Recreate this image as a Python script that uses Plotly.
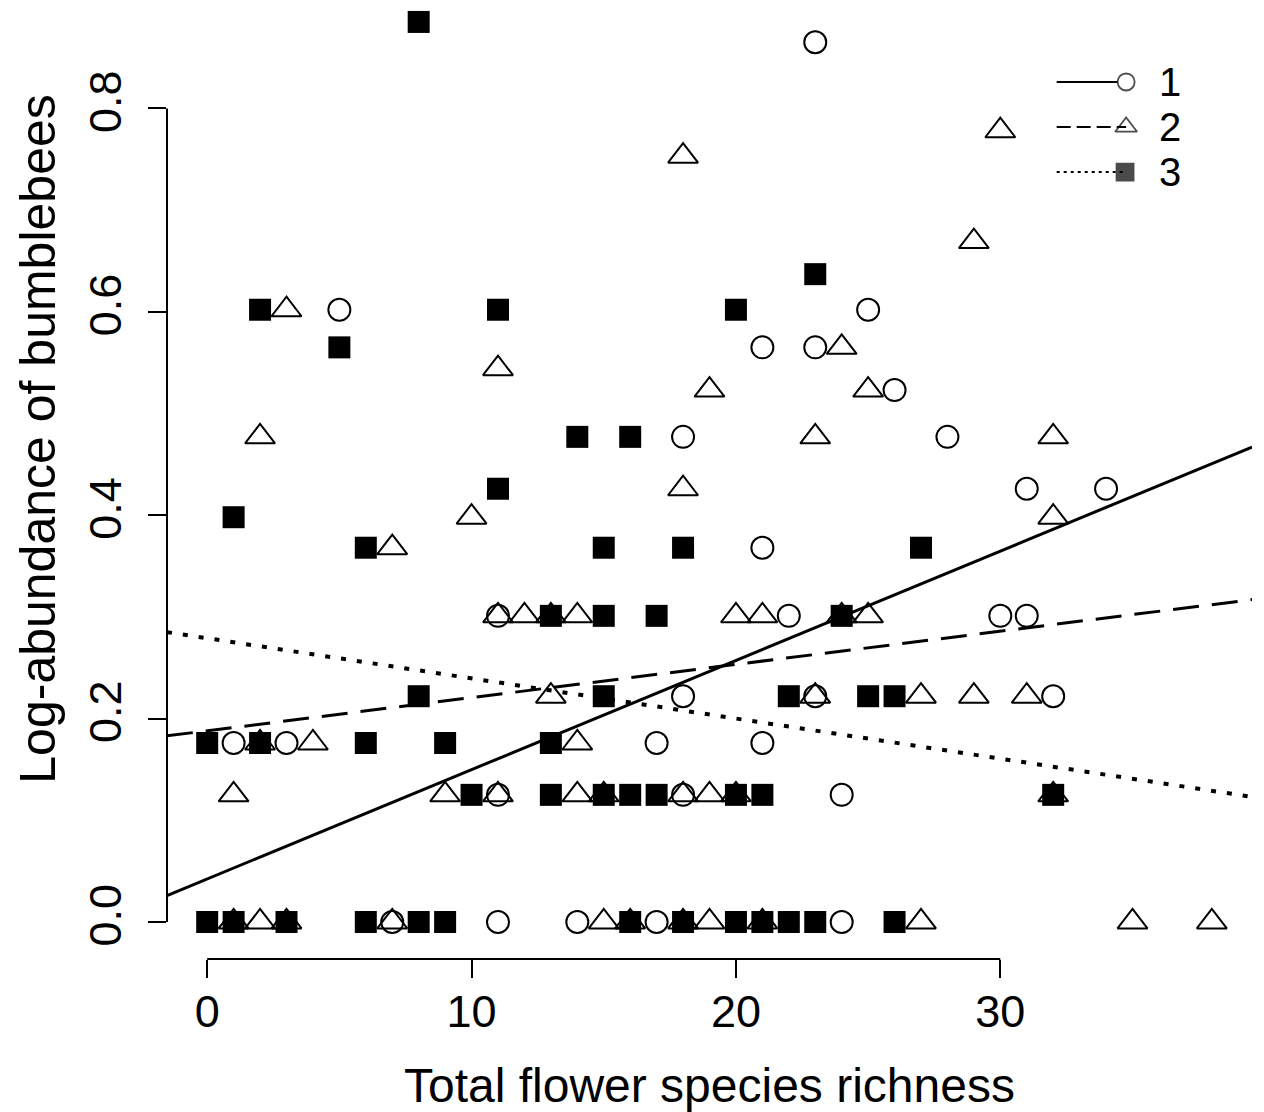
import plotly.graph_objects as go

# flower species richness (x) and log-abundance of bumblebees (y), per group
g1_x = [7, 11, 14, 17, 24,
        11, 18, 24,
        1, 3, 17, 21,
        18, 23, 32,
        11, 22, 30, 31,
        21, 31, 34, 18, 28, 26, 21, 23, 5, 25, 23]
g1_y = [0.0, 0.0, 0.0, 0.0, 0.0,
        0.125, 0.125, 0.125,
        0.176, 0.176, 0.176, 0.176,
        0.222, 0.222, 0.222,
        0.301, 0.301, 0.301, 0.301,
        0.368, 0.426, 0.426, 0.477, 0.477, 0.523, 0.565, 0.565, 0.602, 0.602, 0.865]

g2_x = [1, 2, 3, 7, 15, 16, 18, 19, 21, 27, 35, 38,
        1, 9, 11, 14, 15, 18, 19, 20, 32,
        2, 4, 14,
        13, 23, 27, 29, 31,
        11, 12, 13, 14, 20, 21, 24, 25,
        7, 10, 32, 18, 2, 23, 32, 19, 25, 11, 24, 3, 29, 18, 30]
g2_y = [0.0] * 12 + [0.125] * 9 + [0.176] * 3 + [0.222] * 5 + [0.301] * 8 + \
       [0.368, 0.398, 0.398, 0.426, 0.477, 0.477, 0.477, 0.523, 0.523, 0.544,
        0.565, 0.602, 0.669, 0.753, 0.778]

g3_x = [0, 1, 3, 6, 8, 9, 16, 18, 20, 21, 22, 23, 26,
        10, 13, 15, 16, 17, 20, 21, 32,
        0, 2, 6, 9, 13,
        8, 15, 22, 25, 26,
        13, 15, 17, 24,
        6, 15, 18, 27,
        1, 11, 14, 16, 5, 2, 11, 20, 23, 8]
g3_y = [0.0] * 13 + [0.125] * 8 + [0.176] * 5 + [0.222] * 5 + [0.301] * 4 + \
       [0.368] * 4 + [0.398, 0.426, 0.477, 0.477, 0.565, 0.602, 0.602, 0.602, 0.637, 0.885]

# fitted lines, values at the left and right edges of the plot
fit_x = [-1.52, 39.52]
fit1_y = [0.026, 0.467]
fit2_y = [0.183, 0.317]
fit3_y = [0.285, 0.123]

x_ticks = [0, 10, 20, 30]
y_ticks = [0.0, 0.2, 0.4, 0.6, 0.8]
y_tick_text = ["0.0", "0.2", "0.4", "0.6", "0.8"]
group_names = ["1", "2", "3"]

FONT = "Liberation Sans, Arial, sans-serif"

fig = go.Figure()

fig.add_trace(go.Scatter(x=fit_x, y=fit1_y, mode="lines",
                         line=dict(color="black", width=3)))
fig.add_trace(go.Scatter(x=fit_x, y=fit2_y, mode="lines",
                         line=dict(color="black", width=3, dash="26px,13px")))
fig.add_trace(go.Scatter(x=fit_x, y=fit3_y, mode="lines",
                         line=dict(color="black", width=4, dash="5px,11px")))

fig.add_trace(go.Scatter(x=g1_x, y=g1_y, mode="markers", cliponaxis=False,
                         marker=dict(symbol="circle-open", size=22, color="black",
                                     line=dict(width=2))))
fig.add_trace(go.Scatter(x=g2_x, y=g2_y, mode="markers", cliponaxis=False,
                         marker=dict(symbol="triangle-up-open", size=26, color="black",
                                     line=dict(width=2))))
fig.add_trace(go.Scatter(x=g3_x, y=g3_y, mode="markers", cliponaxis=False,
                         marker=dict(symbol="square", size=22, color="black",
                                     line=dict(width=0))))

# legend drawn on an overlay axis in plot fractions
leg_y = [0.9222, 0.8749, 0.8275]
fig.add_trace(go.Scatter(x=[0.820, 0.876], y=[leg_y[0]] * 2, mode="lines",
                         xaxis="x2", yaxis="y2", line=dict(color="black", width=2)))
fig.add_trace(go.Scatter(x=[0.820, 0.884], y=[leg_y[1]] * 2, mode="lines",
                         xaxis="x2", yaxis="y2",
                         line=dict(color="black", width=2, dash="14px,6px")))
fig.add_trace(go.Scatter(x=[0.820, 0.884], y=[leg_y[2]] * 2, mode="lines",
                         xaxis="x2", yaxis="y2",
                         line=dict(color="black", width=2, dash="3px,4px")))
fig.add_trace(go.Scatter(x=[0.884, 0.884, 0.883], y=leg_y, mode="markers",
                         xaxis="x2", yaxis="y2",
                         marker=dict(symbol=["circle-open", "triangle-up-open", "square"],
                                     size=[17, 19, 17], color="black",
                                     line=dict(width=1.8, color="black"))))
for name, yy in zip(group_names, leg_y):
    fig.add_annotation(x=0.912, y=yy, xref="x2", yref="y2", text=name,
                       showarrow=False, xanchor="left", yanchor="middle",
                       font=dict(size=40, color="black", family=FONT))

# R-style axis lines spanning only the tick range
fig.add_shape(type="line", xref="x", yref="paper", x0=x_ticks[0], x1=x_ticks[-1],
              y0=0, y1=0, line=dict(color="black", width=2))
fig.add_shape(type="line", xref="paper", yref="y", x0=0, x1=0,
              y0=y_ticks[0], y1=y_ticks[-1], line=dict(color="black", width=2))

fig.add_annotation(x=0.5, y=-0.1325, xref="paper", yref="paper",
                   text="Total flower species richness", showarrow=False,
                   xanchor="center", yanchor="middle",
                   font=dict(size=48, color="black", family=FONT))
fig.add_annotation(x=-0.119, y=0.547, xref="paper", yref="paper",
                   text="Log-abundance of bumblebees", showarrow=False, textangle=-90,
                   xanchor="center", yanchor="middle",
                   font=dict(size=50, color="black", family=FONT))

fig.update_layout(
    width=1256, height=1104,
    margin=dict(l=159, r=12, t=0, b=153),
    paper_bgcolor="white", plot_bgcolor="white",
    showlegend=False,
    font=dict(family=FONT, color="black"),
    xaxis=dict(range=[-1.52, 39.52], tickvals=x_ticks, ticks="outside", ticklen=18,
               tickwidth=2, tickcolor="black", showline=False, showgrid=False,
               zeroline=False, tickfont=dict(size=45), ticklabelstandoff=-5),
    yaxis=dict(range=[-0.0364, 0.8987], tickvals=y_ticks, ticktext=y_tick_text,
               ticks="outside", ticklen=18, tickwidth=2, tickcolor="black",
               showline=False, showgrid=False, zeroline=False, tickangle=-90,
               tickfont=dict(size=45), ticklabelstandoff=9),
    xaxis2=dict(overlaying="x", range=[0, 1], visible=False, anchor="y2"),
    yaxis2=dict(overlaying="y", range=[0, 1], visible=False, anchor="x2"),
)

fig.write_html("out.html")
